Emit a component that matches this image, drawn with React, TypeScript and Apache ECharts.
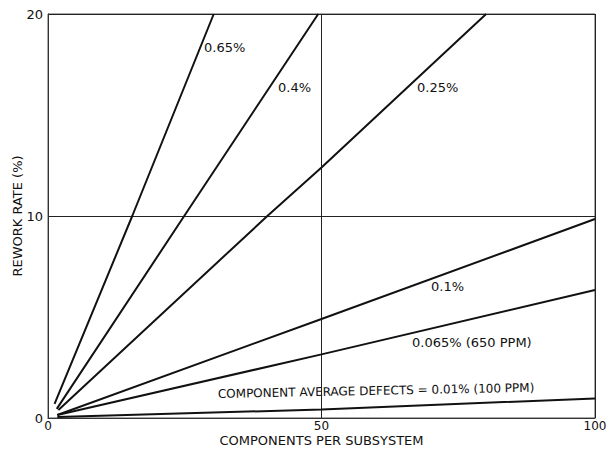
import React, { useEffect, useRef } from "react";
import * as echarts from "echarts";

const xTicks = [0, 50, 100];
const yTicks = [0, 10, 20];

const p065: [number, number][] = [[1.2, 0.7], [15.4, 10], [30.3, 20]];
const p040: [number, number][] = [[1.6, 0.45], [24.9, 10], [49.4, 20]];
const p025: [number, number][] = [[1.9, 0.4], [40.1, 10], [50, 12.4], [80.1, 20]];
const p010: [number, number][] = [[1.7, 0.15], [50, 4.9], [100, 9.85]];
const p0065: [number, number][] = [[1.7, 0.15], [50, 3.15], [100, 6.34]];
const p001: [number, number][] = [[1.7, 0.05], [50, 0.42], [100, 0.97]];

const seriesNames = ["0.65%", "0.4%", "0.25%", "0.1%", "0.065% (650 PPM)", "COMPONENT AVERAGE DEFECTS = 0.01% (100 PPM)"];
const seriesData = [p065, p040, p025, p010, p0065, p001];

const FONT = "DejaVu Sans";

export default function App() {
  const ref = useRef<HTMLDivElement>(null);
  useEffect(() => {
    if (!ref.current) return;
    const chart = echarts.init(ref.current, undefined, { renderer: "svg" });
    const labelStyle = { fill: "#111", font: `13px "${FONT}"` };
    chart.setOption({
      animation: false,
      backgroundColor: "#fff",
      textStyle: { fontFamily: FONT, color: "#111" },
      grid: {
        left: 48, right: 15, top: 14, bottom: 32,
        outerBoundsMode: "none", containLabel: false,
        show: true, borderColor: "#555", borderWidth: 1, backgroundColor: "transparent",
      },
      xAxis: {
        type: "value", min: 0, max: 100, interval: 50,
        name: "COMPONENTS PER SUBSYSTEM", nameLocation: "middle", nameGap: 16, nameMoveOverlap: false,
        nameTextStyle: { fontSize: 13, color: "#111", fontFamily: FONT },
        axisLine: { show: true, lineStyle: { color: "#333", width: 1 } },
        axisTick: { show: false },
        axisLabel: { fontSize: 12, color: "#111", margin: 2, fontFamily: FONT, formatter: (v: number) => (xTicks.includes(v) ? String(v) : "") },
        splitLine: { show: true, lineStyle: { color: "#222", width: 1 } },
      },
      yAxis: {
        type: "value", min: 0, max: 20, interval: 10,
        name: "REWORK RATE (%)", nameLocation: "middle", nameGap: 24, nameRotate: 90, nameMoveOverlap: false,
        nameTextStyle: { fontSize: 13, color: "#111", fontFamily: FONT },
        axisLine: { show: true, lineStyle: { color: "#333", width: 1 } },
        axisTick: { show: false },
        axisLabel: { fontSize: 13, color: "#111", margin: 5, fontFamily: FONT, formatter: (v: number) => (yTicks.includes(v) ? String(v) : "") },
        splitLine: { show: true, lineStyle: { color: "#222", width: 1 } },
      },
      series: seriesData.map((d, i) => ({
        type: "line",
        name: seriesNames[i],
        data: d,
        showSymbol: false,
        symbol: "none",
        lineStyle: { color: "#111", width: 2 },
        z: 3,
      })),
      graphic: [
        { type: "text", left: 204, top: 41, style: { text: seriesNames[0], ...labelStyle } },
        { type: "text", left: 278, top: 81, style: { text: seriesNames[1], ...labelStyle } },
        { type: "text", left: 417, top: 81, style: { text: seriesNames[2], ...labelStyle } },
        { type: "text", left: 431, top: 280, style: { text: seriesNames[3], ...labelStyle } },
        { type: "text", left: 412, top: 336, style: { text: seriesNames[4], ...labelStyle } },
        { type: "text", x: 218, y: 400, rotation: 0.02, style: { text: seriesNames[5], fill: "#111", font: `12px "${FONT}"`, verticalAlign: "bottom" } },
      ],
    });
    return () => chart.dispose();
  }, []);
  return <div ref={ref} style={{ position: "absolute", left: 0, top: 0, width: 610, height: 450 }} />;
}
